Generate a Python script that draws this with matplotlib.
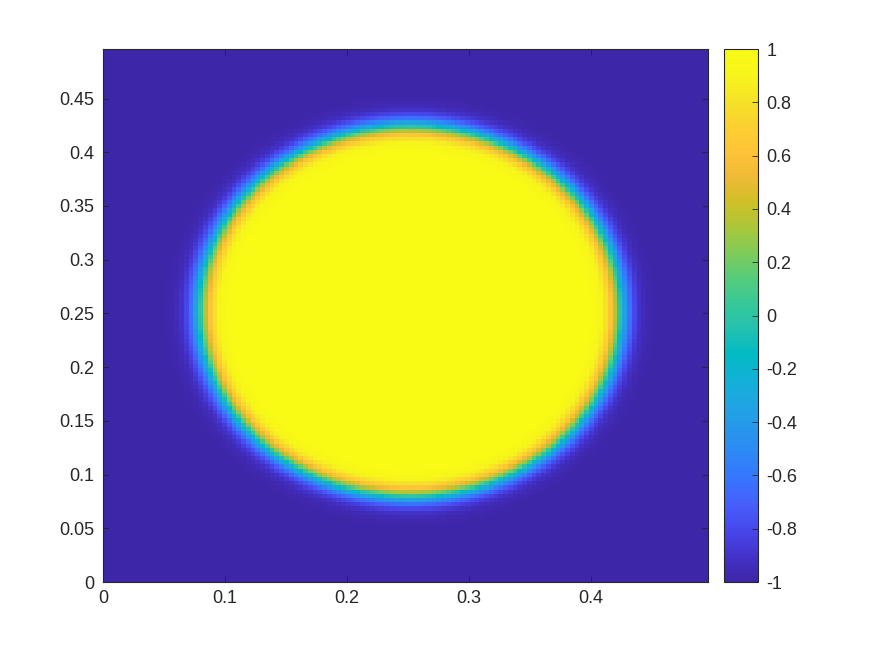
import numpy as np
import matplotlib
matplotlib.use("Agg")
import matplotlib.pyplot as plt
from matplotlib.colors import LinearSegmentedColormap

# grid and phase-field circle
n_grid = 128
domain = 0.5
center = (0.25, 0.25)
radius = 0.172
width = 0.0105

x_ticks = [0, 0.1, 0.2, 0.3, 0.4]
y_ticks = [0, 0.05, 0.1, 0.15, 0.2, 0.25, 0.3, 0.35, 0.4, 0.45]
cbar_ticks = [-1, -0.8, -0.6, -0.4, -0.2, 0, 0.2, 0.4, 0.6, 0.8, 1]

# MATLAB parula (subset of the 64-entry table)
parula_rgb = [
    (0.2422, 0.1504, 0.6603), (0.2647, 0.1978, 0.7952), (0.2803, 0.2782, 0.9221),
    (0.2760, 0.3667, 0.9829), (0.2206, 0.4603, 0.9973), (0.1786, 0.5289, 0.9682),
    (0.1540, 0.5902, 0.9218), (0.1248, 0.6459, 0.8883), (0.0689, 0.6948, 0.8394),
    (0.0067, 0.7312, 0.7660), (0.1408, 0.7584, 0.6842), (0.2161, 0.7843, 0.5923),
    (0.3406, 0.8008, 0.4789), (0.5044, 0.7993, 0.3480), (0.6720, 0.7793, 0.2227),
    (0.8203, 0.7498, 0.1535), (0.9393, 0.7288, 0.2100), (0.9970, 0.7659, 0.2199),
    (0.9892, 0.8136, 0.1885), (0.9610, 0.8890, 0.1537), (0.9691, 0.9606, 0.1064),
    (0.9769, 0.9839, 0.0805),
]
parula = LinearSegmentedColormap.from_list("parula", parula_rgb, N=256)

x = np.linspace(0, domain, n_grid, endpoint=False)
y = np.linspace(0, domain, n_grid, endpoint=False)
X, Y = np.meshgrid(x, y)
r = np.sqrt((X - center[0]) ** 2 + (Y - center[1]) ** 2)
phi = np.tanh((radius - r) / width)

plt.rcParams['font.family'] = ['Liberation Sans', 'DejaVu Sans']
plt.rcParams['axes.unicode_minus'] = False

fig = plt.figure(figsize=(8.75, 6.56), dpi=100)
ax = fig.add_axes([0.1177, 0.1128, 0.6914, 0.8125])
cax = fig.add_axes([0.8274, 0.1128, 0.0389, 0.8125])

mesh = ax.pcolormesh(x, y, phi[:-1, :-1], cmap=parula, vmin=-1, vmax=1, shading='flat')
ax.set_xlim(x[0], x[-1])
ax.set_ylim(y[0], y[-1])
ax.set_xticks(x_ticks)
ax.set_yticks(y_ticks)
ax.set_xticklabels([f'{t:g}' for t in x_ticks])
ax.set_yticklabels([f'{t:g}' for t in y_ticks])
ax.tick_params(direction='in', top=True, right=True, length=4, width=0.6,
               labelsize=13, colors='#262626', pad=6)
for s in ax.spines.values():
    s.set_linewidth(0.8)
    s.set_color('#262626')

cb = fig.colorbar(mesh, cax=cax, ticks=cbar_ticks)
cb.ax.set_yticklabels([f'{t:g}' for t in cbar_ticks])
cb.ax.tick_params(direction='in', length=4, width=0.6, labelsize=13,
                  colors='#262626', pad=6)
cb.outline.set_linewidth(0.8)
cb.outline.set_edgecolor('#262626')

fig.savefig('out.png', dpi=100)
